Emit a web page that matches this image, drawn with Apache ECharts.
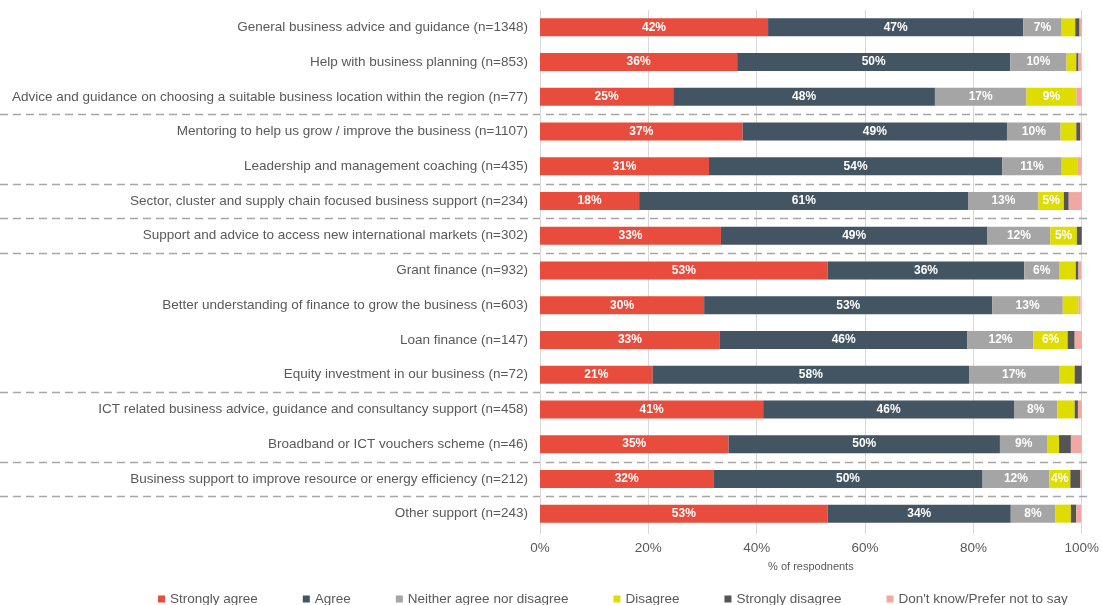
<!DOCTYPE html>
<html>
<head>
<meta charset="utf-8">
<title>Agreement with support types</title>
<script src="https://cdn.jsdelivr.net/npm/echarts@6/dist/echarts.min.js"></script>
<style>
  html, body { margin: 0; padding: 0; background: #ffffff; }
  #chart { width: 1102px; height: 605px; }
</style>
</head>
<body>
<div id="chart"></div>
<script>
// Support types, top to bottom
const categories = [
  'General business advice and guidance (n=1348)',
  'Help with business planning (n=853)',
  'Advice and guidance on choosing a suitable business location within the region (n=77)',
  'Mentoring to help us grow / improve the business (n=1107)',
  'Leadership and management coaching (n=435)',
  'Sector, cluster and supply chain focused business support (n=234)',
  'Support and advice to access new international markets (n=302)',
  'Grant finance (n=932)',
  'Better understanding of finance to grow the business (n=603)',
  'Loan finance (n=147)',
  'Equity investment in our business (n=72)',
  'ICT related business advice, guidance and consultancy support (n=458)',
  'Broadband or ICT vouchers scheme (n=46)',
  'Business support to improve resource or energy efficiency (n=212)',
  'Other support (n=243)'
];

// Share of respondents (%) per answer
const stronglyAgree = [42.1, 36.4, 24.6, 37.4, 31.2, 18.3, 33.4, 53.1, 30.3, 33.2, 20.8, 41.2, 34.8, 32.0, 53.1];
const agree         = [47.1, 50.4, 48.3, 48.8, 54.1, 60.8, 49.2, 36.3, 53.2, 45.7, 58.4, 46.3, 50.1, 49.7, 33.8];
const neither       = [7.1, 10.4, 16.9, 9.9, 11.0, 12.9, 11.6, 6.4, 13.0, 12.2, 16.6, 8.0, 8.8, 12.3, 8.2];
const disagree      = [2.5, 1.8, 9.2, 2.9, 3.0, 4.7, 4.9, 3.1, 2.9, 6.3, 2.9, 3.2, 2.1, 3.9, 2.9];
const stronglyDis   = [0.8, 0.4, 0, 0.7, 0, 0.9, 0.9, 0.5, 0, 1.3, 1.3, 0.6, 2.2, 1.8, 1.0];
const dontKnow      = [0.4, 0.5, 1.2, 0.3, 0.9, 2.5, 0, 0.5, 0.4, 1.3, 0, 1.0, 2.1, 0.4, 0.9];

const seriesNames = ['Strongly agree', 'Agree', 'Neither agree nor disagree', 'Disagree', 'Strongly disagree', "Don't know/Prefer not to say"];
const xTicks = [0, 20, 40, 60, 80, 100];
const axisTitle = '% of respodnents';

// Dashed separators are drawn below these row indices
const groupBreaks = [2, 4, 5, 6, 10, 12, 13];

const colors = ['#E84C3D', '#435463', '#A5A5A5', '#DEDC00', '#555555', '#F2A8A2'];
const FONT = '"Liberation Sans", Arial, sans-serif';
const LABEL_MIN = 3.5;

const chart = echarts.init(document.getElementById('chart'), null, { renderer: 'canvas' });

const values = [stronglyAgree, agree, neither, disagree, stronglyDis, dontKnow];

const series = seriesNames.map((name, i) => ({
  name: name,
  type: 'bar',
  stack: 'total',
  barWidth: 18,
  itemStyle: { color: colors[i] },
  label: {
    show: true,
    position: 'inside',
    color: '#ffffff',
    fontFamily: FONT,
    fontWeight: 'bold',
    fontSize: 12,
    formatter: p => (p.value >= LABEL_MIN ? Math.round(p.value) + '%' : '')
  },
  emphasis: { disabled: true },
  data: values[i]
}));

chart.setOption({
  animation: false,
  textStyle: { fontFamily: FONT },
  grid: { left: 540, right: 18.5, top: 10, bottom: 74, containLabel: false },
  legend: {
    data: seriesNames,
    left: 153,
    top: 587,
    icon: 'rect',
    itemWidth: 7,
    itemHeight: 7,
    itemGap: 45,
    textStyle: { color: '#595959', fontSize: 13.5, fontFamily: FONT }
  },
  xAxis: {
    type: 'value',
    min: xTicks[0],
    max: xTicks[xTicks.length - 1],
    interval: xTicks[1] - xTicks[0],
    name: axisTitle,
    nameLocation: 'middle',
    nameGap: 30,
    nameTextStyle: { color: '#595959', fontSize: 11, fontFamily: FONT },
    axisLine: { show: false },
    axisTick: { show: true, length: 3, lineStyle: { color: '#D9D9D9' } },
    axisLabel: { color: '#595959', fontSize: 13.5, margin: 10, formatter: '{value}%', fontFamily: FONT },
    splitLine: { show: true, lineStyle: { color: '#D9D9D9', width: 1 } }
  },
  yAxis: {
    type: 'category',
    inverse: true,
    data: categories,
    axisLine: { show: true, lineStyle: { color: '#D9D9D9' } },
    axisTick: { show: false },
    axisLabel: { color: '#595959', fontSize: 13.5, margin: 12, fontFamily: FONT }
  },
  series: series
});

// Dashed group separators, positioned from the category scale
function drawSeparators() {
  const right = chart.convertToPixel({ xAxisIndex: 0 }, xTicks[xTicks.length - 1]) + 8;
  const lines = groupBreaks.map(idx => {
    const y0 = chart.convertToPixel({ yAxisIndex: 0 }, idx);
    const y1 = chart.convertToPixel({ yAxisIndex: 0 }, idx + 1);
    const y = Math.round((y0 + y1) / 2) + 0.5;
    return {
      type: 'line',
      silent: true,
      z: 0,
      shape: { x1: 0, y1: y, x2: right, y2: y },
      style: { stroke: '#A6A6A6', lineWidth: 1.5, lineDash: [8, 5] }
    };
  });
  chart.setOption({ graphic: lines });
}
drawSeparators();
</script>
</body>
</html>
